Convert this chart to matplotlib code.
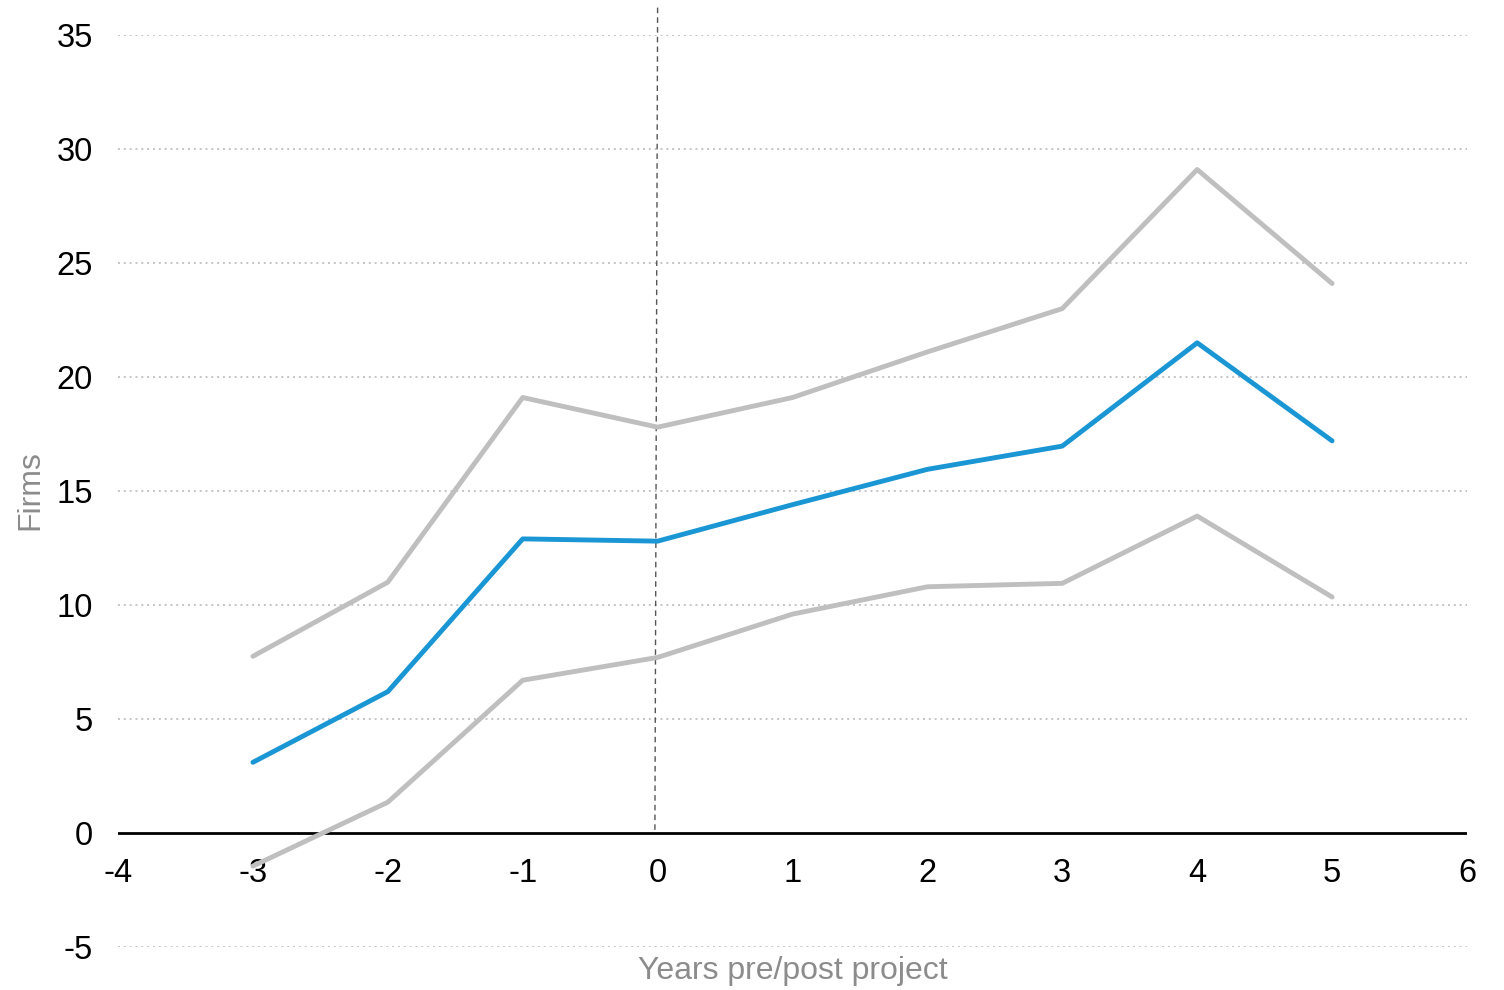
import matplotlib.pyplot as plt

plt.rcParams['font.family'] = ['Liberation Sans', 'DejaVu Sans']
plt.rcParams['axes.unicode_minus'] = False

years = [-3, -2, -1, 0, 1, 2, 3, 4, 5]
firms = [3.1, 6.2, 12.9, 12.8, 14.4, 15.95, 16.97, 21.5, 17.2]
upper = [7.75, 11.0, 19.1, 17.8, 19.1, 21.1, 23.0, 29.1, 24.1]
lower = [-1.45, 1.35, 6.7, 7.7, 9.6, 10.8, 10.95, 13.9, 10.35]

fig = plt.figure(figsize=(15.04, 9.9), dpi=100)
ax = fig.add_axes([118 / 1504, 1 - 947 / 990, (1467 - 118) / 1504, (947 - 35) / 990])

ax.set_xlim(-4, 6)
ax.set_ylim(-5, 35)

# dotted horizontal gridlines, solid zero line
for y in [-5, 5, 10, 15, 20, 25, 30, 35]:
    ax.axhline(y, color='#c4c4c4', lw=1.4, ls=(0, (1, 2)), zorder=1)
ax.axhline(0, color='black', lw=2, zorder=2)

# project start marker
ax.plot([0.0, -0.02], [36.2, 0], color='#555555', lw=1, ls=(0, (4, 3)),
        clip_on=False, zorder=2)

ax.plot(years, upper, color='#bfbfbf', lw=3.5, solid_capstyle='round',
        solid_joinstyle='round', zorder=3)
ax.plot(years, lower, color='#bfbfbf', lw=3.5, solid_capstyle='round',
        solid_joinstyle='round', zorder=3)
ax.plot(years, firms, color='#1a96d4', lw=3.5, solid_capstyle='round',
        solid_joinstyle='round', zorder=4)

for s in ax.spines.values():
    s.set_visible(False)

ax.set_xticks(range(-4, 7))
ax.set_yticks(range(-5, 40, 5))
ax.tick_params(length=0, labelsize=23.5, labelcolor='black')
ax.tick_params(axis='y', pad=18)
# x tick labels sit just under the zero line
ax.spines['bottom'].set_position(('data', 0))
ax.tick_params(axis='x', pad=18)

fig.text(30 / 1504, 1 - 490 / 990, 'Firms', rotation=90, color='#8c8c8c',
         fontsize=23, ha='center', va='center')
fig.text(793 / 1504, 1 - 971 / 990, 'Years pre/post project', color='#8c8c8c',
         fontsize=23, ha='center', va='center')

fig.savefig('out.png', dpi=100)
